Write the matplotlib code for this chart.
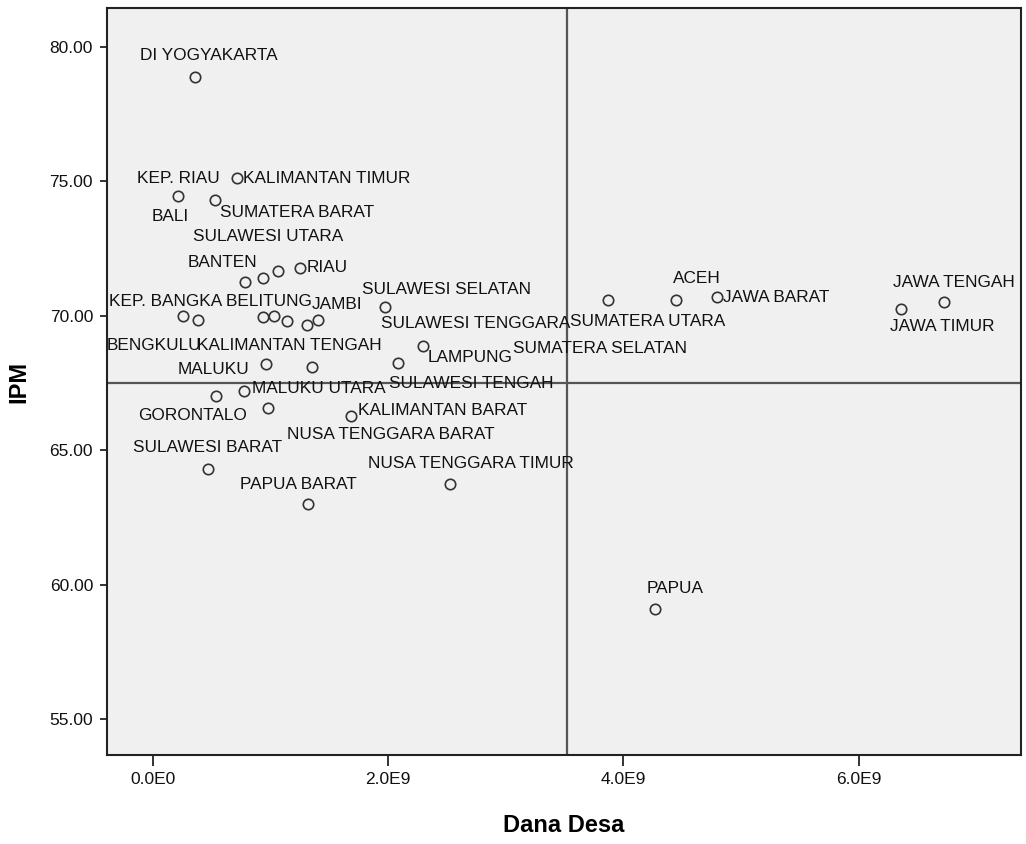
import matplotlib
matplotlib.use('Agg')
import matplotlib.pyplot as plt

# provinsi, dana desa (rupiah), IPM
provinsi = ['DI YOGYAKARTA', 'KEP. RIAU', 'KALIMANTAN TIMUR', 'BALI', 'SUMATERA BARAT',
            'SULAWESI UTARA', 'BANTEN', 'RIAU', 'KEP. BANGKA BELITUNG', 'JAMBI',
            'SULAWESI SELATAN', 'SULAWESI TENGGARA', 'SUMATERA UTARA', 'ACEH', 'JAWA BARAT',
            'JAWA TENGAH', 'JAWA TIMUR', 'BENGKULU', 'KALIMANTAN TENGAH', 'LAMPUNG',
            'SUMATERA SELATAN', 'MALUKU', 'MALUKU UTARA', 'SULAWESI TENGAH', 'GORONTALO',
            'KALIMANTAN BARAT', 'NUSA TENGGARA BARAT', 'SULAWESI BARAT', 'NUSA TENGGARA TIMUR',
            'PAPUA BARAT', 'PAPUA', 'KALIMANTAN UTARA', 'KALIMANTAN SELATAN']
dana_desa = [0.357e9, 0.213e9, 0.714e9, 0.527e9, 0.782e9,
             1.063e9, 0.935e9, 1.250e9, 0.255e9, 1.029e9,
             1.973e9, 1.403e9, 3.869e9, 4.447e9, 4.796e9,
             6.726e9, 6.361e9, 0.935e9, 1.139e9, 2.083e9,
             2.296e9, 0.961e9, 0.774e9, 1.352e9, 0.536e9,
             1.684e9, 0.978e9, 0.468e9, 2.526e9,
             1.318e9, 4.269e9, 0.383e9, 1.310e9]
ipm = [78.89, 74.45, 75.12, 74.30, 71.24,
       71.66, 71.42, 71.79, 69.99, 69.99,
       70.34, 69.86, 70.57, 70.60, 70.69,
       70.52, 70.27, 69.95, 69.79, 68.25,
       68.86, 68.19, 67.20, 68.11, 67.01,
       66.26, 66.58, 64.30, 63.73,
       62.99, 59.09, 69.84, 69.65]
ref_x = 3.52e9
ref_y = 67.51

# posisi label (pixel, relatif ke titik)
offset_label = {
    'DI YOGYAKARTA': (-55, 21), 'KEP. RIAU': (-41, 18), 'KALIMANTAN TIMUR': (6, 0),
    'BALI': (-63, -16), 'SUMATERA BARAT': (-25, 70), 'SULAWESI UTARA': (-85, 35),
    'BANTEN': (-75, 15), 'RIAU': (7, 0), 'KEP. BANGKA BELITUNG': (-74, 15),
    'JAMBI': (38, 12), 'SULAWESI SELATAN': (-23, 17), 'SULAWESI TENGGARA': (63, -4),
    'SUMATERA UTARA': (-38, -21), 'ACEH': (-3, 21), 'JAWA BARAT': (6, 0),
    'JAWA TENGAH': (-51, 19), 'JAWA TIMUR': (-11, -18), 'BENGKULU': (-156, -28),
    'KALIMANTAN TENGAH': (-90, -24), 'LAMPUNG': (30, 5), 'SUMATERA SELATAN': (90, -2),
    'MALUKU': (-88, -5), 'MALUKU UTARA': (8, 3), 'SULAWESI TENGAH': (77, -17),
    'GORONTALO': (-78, -19), 'KALIMANTAN BARAT': (7, 6), 'NUSA TENGGARA BARAT': (19, -27),
    'SULAWESI BARAT': (-75, 21), 'NUSA TENGGARA TIMUR': (-82, 21), 'PAPUA BARAT': (-68, 20),
    'PAPUA': (-8, 21),
}

plt.rcParams['font.family'] = ['Liberation Sans', 'DejaVu Sans']

fig = plt.figure(figsize=(10.26, 8.44), dpi=100)
ax = fig.add_axes([107/1026, 89/844, 914/1026, 747/844])
ax.set_facecolor('#f0f0f0')

ax.axvline(ref_x, color='#555555', lw=1.6, zorder=1)
ax.axhline(ref_y, color='#555555', lw=1.6, zorder=1)

ax.plot(dana_desa, ipm, 'o', ms=7.5, mfc='none', mec='#333333', mew=1.2, zorder=3)

for nama, x, y in zip(provinsi, dana_desa, ipm):
    if nama in offset_label:
        ax.annotate(nama, (x, y), xytext=offset_label[nama], textcoords='offset pixels',
                    ha='left', va='center', fontsize=12.4, color='#111111', zorder=4)

ax.set_xlim(-0.391e9, 7.381e9)
ax.set_ylim(53.66, 81.45)
ax.set_xticks([0, 2e9, 4e9, 6e9])
ax.set_xticklabels(['0.0E0', '2.0E9', '4.0E9', '6.0E9'])
ax.set_yticks([55, 60, 65, 70, 75, 80])
ax.set_yticklabels(['%.2f' % v for v in [55, 60, 65, 70, 75, 80]])
ax.tick_params(axis='y', length=5, width=1.2, labelsize=12.5, colors='#111111', pad=5)
ax.tick_params(axis='x', length=8, width=1.2, labelsize=12.5, colors='#111111', pad=4)

for s in ax.spines.values():
    s.set_linewidth(1.5)
    s.set_color('#222222')

ax.set_xlabel('Dana Desa', fontsize=17, fontweight='bold', labelpad=20)
ax.set_ylabel('IPM', fontsize=17, fontweight='bold', labelpad=14)

fig.savefig('out.png', dpi=100)
